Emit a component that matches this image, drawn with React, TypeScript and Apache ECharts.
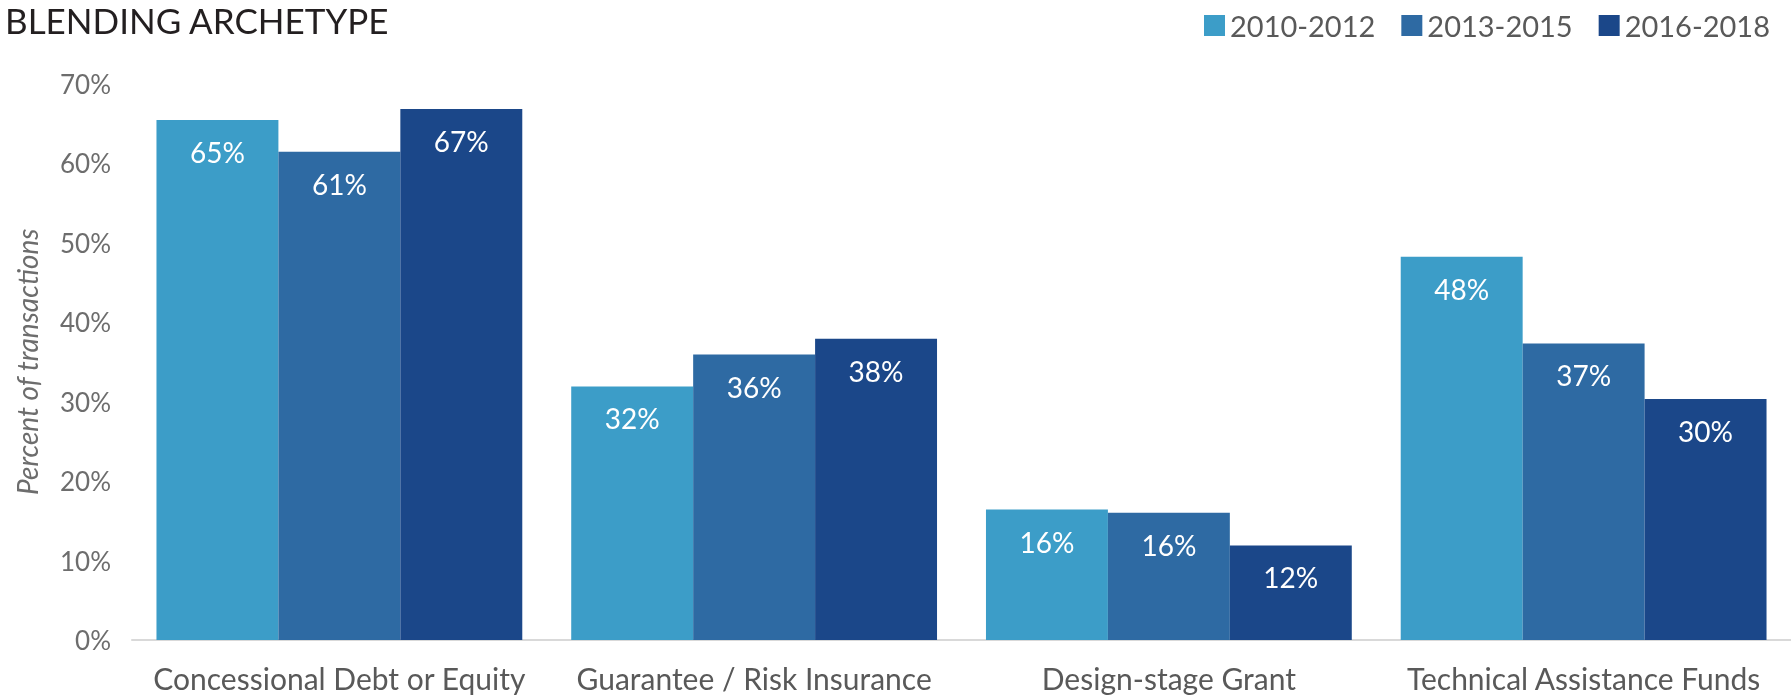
import React, { useEffect, useRef } from "react";
import * as echarts from "echarts";

const categories = [
  "Concessional Debt or Equity",
  "Guarantee / Risk Insurance",
  "Design-stage Grant",
  "Technical Assistance Funds",
];
const seriesNames = ["2010-2012", "2013-2015", "2016-2018"];
const values2010 = [65.4, 31.9, 16.4, 48.2];
const values2013 = [61.4, 35.9, 16.0, 37.3];
const values2016 = [66.8, 37.9, 11.9, 30.3];
const colors = ["#3c9dc8", "#2e6aa3", "#1b4789"];
const titleText = "BLENDING ARCHETYPE";
const yAxisName = "Percent of transactions";

export default function App() {
  const ref = useRef<HTMLDivElement>(null);
  useEffect(() => {
    if (!ref.current) return;
    const chart = echarts.init(ref.current, undefined, { renderer: "svg" });
    const font = "Lato, 'Open Sans', sans-serif";
    const data = [values2010, values2013, values2016];
    chart.setOption({
      animation: false,
      textStyle: { fontFamily: font },
      title: {
        text: titleText,
        left: 5,
        top: 2,
        padding: 0,
        textStyle: { fontFamily: font, fontSize: 35, lineHeight: 35, fontWeight: "normal", color: "#231f20" },
      },
      legend: {
        data: seriesNames,
        left: 1199,
        top: 6,
        itemWidth: 21,
        itemHeight: 21,
        itemGap: 26,
        icon: "rect",
        textStyle: { fontFamily: font, fontSize: 29, color: "#595959" },
      },
      grid: { left: 132, top: 83.5, width: 1665, bottom: 56, containLabel: false },
      xAxis: {
        type: "category",
        data: categories,
        axisLine: { lineStyle: { color: "#d9d9d9", width: 2 } },
        axisTick: { show: false },
        axisLabel: { interval: 0, fontFamily: font, fontSize: 30, color: "#595959", margin: 23 },
      },
      yAxis: {
        type: "value",
        min: 0,
        max: 70,
        interval: 10,
        name: yAxisName,
        nameLocation: "middle",
        nameGap: 91,
        nameTextStyle: { fontFamily: font, fontSize: 28, fontStyle: "italic", color: "#6d6d6d" },
        axisLine: { show: false },
        axisTick: { show: false },
        splitLine: { show: false },
        axisLabel: { formatter: "{value}%", fontFamily: font, fontSize: 26, color: "#6d6d6d", margin: 21 },
      },
      series: seriesNames.map((name, i) => ({
        name,
        type: "bar",
        data: data[i],
        barGap: "0%",
        barCategoryGap: "11.8%",
        itemStyle: { color: colors[i] },
        label: {
          show: true,
          position: "insideTop",
          distance: 18,
          color: "#ffffff",
          fontFamily: font,
          fontSize: 28,
          formatter: (p: any) => Math.round(p.value) + "%",
        },
      })),
    });
    return () => chart.dispose();
  }, []);
  return (
    <div
      ref={ref}
      style={{ position: "fixed", left: 0, top: 0, width: 1791, height: 696 }}
    />
  );
}
